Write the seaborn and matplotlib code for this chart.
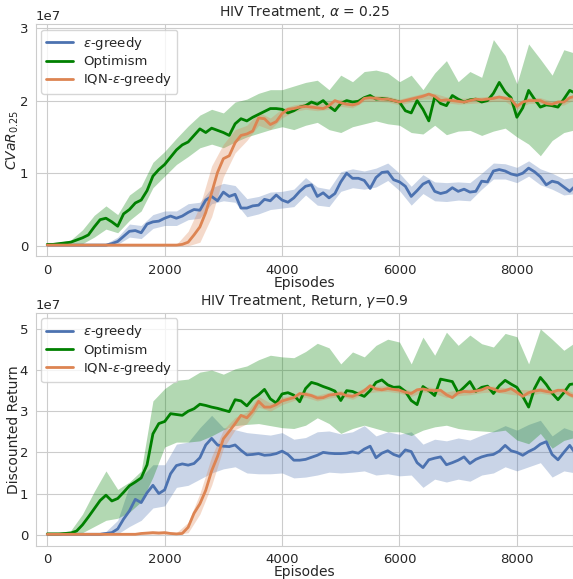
import numpy as np
import matplotlib
matplotlib.use("Agg")
import matplotlib.pyplot as plt
import seaborn as sns

# episodes for the mean curves (every 100) and for the shaded bands (every 200)
episodes = np.arange(0, 9001, 100)
band_episodes = np.arange(0, 9001, 200)

# ---- top panel: CVaR_0.25 (values in 1e6) ----
cvar_greedy = [
    0.1, 0.1, 0.1, 0.1, 0.1, 0.1, 0.1, 0.1, 0.1, 0.1,
    0.1, 0.3, 0.6, 1.3, 2.0, 2.1, 1.8, 3.0, 3.3, 3.4,
    3.8, 4.1, 3.8, 4.1, 4.6, 5.0, 4.9, 6.3, 6.8, 6.2,
    7.4, 6.8, 7.1, 5.2, 5.2, 5.5, 5.6, 6.4, 6.2, 7.0,
    6.3, 6.0, 6.6, 7.5, 8.2, 8.4, 6.8, 7.3, 6.6, 7.2,
    8.8, 10.0, 9.3, 9.3, 9.0, 7.9, 9.4, 10.1, 10.2, 9.1,
    8.8, 8.2, 6.8, 7.6, 8.5, 8.9, 7.5, 7.2, 7.4, 8.0,
    7.5, 7.8, 7.4, 7.5, 8.9, 8.8, 10.3, 10.5, 10.3, 9.9,
    9.7, 10.0, 10.7, 10.2, 9.5, 8.4, 8.9, 8.7, 8.1, 7.5,
    8.3]
cvar_greedy_lo = [
    0.0, 0.0, 0.0, 0.0, 0.0, 0.0, 0.2, 1.2, 1.0, 2.4,
    2.8, 2.8, 3.6, 3.8, 5.8, 6.2, 6.0, 4.0, 4.4, 5.0,
    5.2, 5.4, 7.0, 5.6, 5.4, 7.5, 8.0, 7.8, 8.1, 9.0,
    7.6, 5.6, 7.2, 6.2, 6.1, 6.3, 6.2, 7.8, 9.2, 9.2,
    8.7, 9.6, 8.4, 7.8, 7.0, 7.2]
cvar_greedy_hi = [
    0.2, 0.2, 0.2, 0.2, 0.2, 0.3, 1.2, 3.0, 2.8, 4.3,
    4.8, 4.8, 5.8, 6.0, 8.0, 8.6, 8.3, 6.5, 6.8, 7.4,
    7.5, 7.8, 9.4, 8.1, 7.8, 10.2, 10.6, 10.3, 10.7, 11.4,
    10.0, 8.2, 9.8, 8.8, 8.7, 8.8, 8.7, 10.0, 11.4, 11.3,
    10.8, 11.7, 10.6, 10.0, 9.2, 9.5]

cvar_optimism = [
    0.2, 0.2, 0.3, 0.4, 0.5, 0.8, 1.1, 1.5, 2.6, 3.6,
    3.8, 3.3, 2.7, 4.4, 5.0, 5.9, 6.3, 7.6, 9.6, 10.5,
    11.2, 12.2, 13.2, 13.9, 14.3, 15.2, 16.1, 15.6, 16.2, 15.9,
    15.6, 15.2, 16.8, 17.5, 17.2, 17.7, 18.1, 18.5, 18.9, 18.9,
    18.8, 18.3, 18.6, 19.1, 19.3, 19.8, 19.5, 20.0, 19.2, 18.6,
    19.6, 20.0, 19.8, 19.9, 20.4, 20.7, 20.2, 20.3, 20.2, 20.0,
    19.8, 18.6, 18.3, 20.0, 18.8, 17.2, 20.5, 19.6, 19.3, 20.7,
    20.2, 19.8, 20.1, 20.2, 19.8, 20.0, 21.0, 22.5, 21.2, 20.4,
    17.7, 19.0, 21.4, 20.2, 19.1, 19.4, 19.3, 19.1, 20.2, 21.4,
    21.0]
cvar_optimism_lo = [
    0.1, 0.1, 0.2, 0.3, 1.2, 2.3, 1.8, 3.5, 4.8, 8.0,
    9.6, 11.2, 12.3, 13.5, 14.0, 13.5, 14.3, 15.0, 15.5, 16.0,
    16.4, 16.0, 16.6, 17.0, 16.0, 15.6, 16.4, 16.8, 17.2, 16.8,
    16.6, 15.6, 15.4, 16.6, 15.3, 15.8, 15.9, 15.2, 15.8, 16.2,
    15.0, 14.0, 12.4, 14.5, 15.6, 16.0]
cvar_optimism_hi = [
    0.4, 0.5, 0.8, 2.2, 4.2, 5.5, 4.3, 7.0, 8.2, 11.5,
    13.0, 14.8, 16.5, 18.0, 18.8, 18.3, 19.8, 20.2, 21.0, 21.5,
    21.5, 22.0, 22.5, 22.8, 21.5, 23.5, 22.6, 24.0, 24.2, 23.8,
    22.6, 23.5, 21.5, 23.8, 25.5, 22.6, 24.0, 23.2, 28.4, 26.2,
    22.3, 27.8, 25.7, 23.5, 27.0, 26.5]

cvar_iqn = [
    0.1, 0.1, 0.1, 0.1, 0.1, 0.1, 0.1, 0.1, 0.1, 0.1,
    0.1, 0.1, 0.1, 0.1, 0.1, 0.1, 0.1, 0.1, 0.1, 0.1,
    0.1, 0.1, 0.1, 0.2, 0.5, 1.5, 2.6, 4.6, 7.3, 10.1,
    12.0, 12.4, 14.2, 15.2, 15.4, 15.8, 17.6, 17.5, 16.7, 17.1,
    18.2, 18.8, 18.9, 19.1, 19.2, 19.1, 19.0, 18.9, 19.3, 20.0,
    19.7, 19.5, 19.4, 19.6, 20.3, 20.4, 20.3, 20.2, 20.2, 20.0,
    19.8, 20.0, 20.2, 20.4, 20.6, 20.9, 20.6, 20.0, 20.1, 20.0,
    19.9, 19.8, 20.0, 20.2, 20.1, 20.2, 20.3, 20.5, 20.3, 20.2,
    19.2, 19.8, 20.0, 20.0, 20.0, 19.6, 19.5, 19.8, 19.8, 20.4,
    20.6]
cvar_iqn_lo = [
    0.0, 0.0, 0.0, 0.0, 0.0, 0.0, 0.0, 0.0, 0.0, 0.0,
    0.0, 0.0, 0.0, 0.5, 4.0, 9.5, 12.8, 14.5, 16.6, 16.0,
    17.6, 18.5, 18.8, 18.6, 18.8, 19.2, 19.0, 19.9, 19.9, 19.8,
    19.4, 19.8, 20.2, 20.2, 19.7, 19.5, 19.6, 19.7, 19.9, 19.9,
    18.8, 19.6, 19.6, 19.1, 19.4, 20.2]
cvar_iqn_hi = [
    0.2, 0.2, 0.2, 0.2, 0.2, 0.2, 0.2, 0.2, 0.2, 0.2,
    0.2, 0.2, 2.0, 5.5, 11.0, 14.0, 16.0, 16.6, 18.4, 17.6,
    18.9, 19.4, 19.7, 19.5, 19.9, 20.2, 19.9, 20.7, 20.7, 20.6,
    20.2, 20.6, 21.0, 21.0, 20.5, 20.3, 20.4, 20.5, 20.7, 20.7,
    19.6, 20.4, 20.4, 19.9, 20.2, 21.0]

# ---- bottom panel: discounted return (values in 1e6) ----
ret_greedy = [
    0.1, 0.1, 0.1, 0.1, 0.1, 0.1, 0.1, 0.1, 0.1, 0.1,
    0.3, 0.5, 1.4, 3.8, 5.8, 8.6, 7.8, 10.2, 12.0, 10.0,
    10.9, 14.8, 16.8, 17.2, 16.9, 17.3, 18.7, 21.8, 23.4, 21.8,
    21.5, 21.4, 21.8, 20.5, 19.4, 19.5, 19.7, 19.3, 19.4, 19.7,
    20.3, 19.5, 18.1, 18.1, 18.3, 18.8, 19.3, 20.0, 19.8, 19.7,
    19.7, 19.8, 20.1, 19.8, 20.8, 21.5, 18.7, 19.8, 20.4, 19.5,
    19.0, 20.6, 20.2, 17.5, 16.3, 18.2, 18.6, 18.9, 17.0, 17.5,
    18.1, 18.9, 17.3, 18.3, 18.9, 19.3, 19.5, 20.3, 21.7, 20.4,
    20.0, 19.3, 20.2, 20.9, 22.0, 22.6, 19.5, 18.2, 20.0, 21.7,
    19.7]
ret_greedy_lo = [
    0.0, 0.0, 0.0, 0.0, 0.0, 0.0, 0.2, 2.0, 3.5, 6.5,
    7.0, 11.5, 12.0, 13.5, 15.0, 16.0, 16.5, 15.0, 14.8, 14.8,
    15.0, 13.8, 14.0, 14.5, 15.2, 15.0, 15.2, 15.5, 14.5, 14.8,
    14.3, 14.5, 11.5, 13.5, 12.8, 13.5, 13.0, 14.5, 15.0, 16.5,
    15.5, 16.5, 17.5, 14.0, 15.5, 15.0]
ret_greedy_hi = [
    0.3, 0.3, 0.3, 0.3, 0.3, 0.8, 3.5, 12.0, 14.0, 17.0,
    17.0, 22.0, 22.5, 26.0, 29.0, 26.0, 25.5, 24.8, 24.5, 24.2,
    24.8, 23.2, 23.6, 25.0, 25.2, 24.5, 25.0, 26.5, 24.0, 25.0,
    24.4, 25.0, 22.0, 23.2, 22.8, 23.5, 23.0, 24.2, 25.2, 26.5,
    25.4, 26.8, 27.8, 24.0, 26.0, 25.0]

ret_optimism = [
    0.2, 0.2, 0.2, 0.3, 0.4, 0.9, 2.4, 4.3, 6.3, 8.3,
    9.6, 8.2, 8.8, 10.3, 11.9, 12.8, 13.8, 17.0, 24.5, 27.0,
    27.5, 29.4, 29.2, 29.0, 30.0, 30.6, 31.7, 31.4, 31.0, 30.7,
    30.3, 29.9, 32.8, 32.5, 31.3, 33.0, 34.0, 35.3, 33.0, 32.0,
    34.2, 34.5, 33.9, 32.3, 35.5, 37.0, 36.6, 36.0, 35.5, 34.9,
    32.6, 35.0, 34.8, 34.2, 33.6, 35.0, 37.0, 37.6, 36.4, 35.8,
    35.9, 34.8, 32.6, 31.6, 36.0, 35.0, 33.8, 37.8, 37.5, 37.2,
    34.5, 35.8, 37.2, 34.8, 35.8, 36.1, 34.3, 36.2, 37.5, 36.6,
    35.8, 33.6, 31.0, 35.5, 38.2, 36.5, 34.4, 32.8, 34.5, 36.5,
    36.7]
ret_optimism_lo = [
    0.0, 0.0, 0.1, 0.5, 2.0, 3.5, 4.0, 5.5, 8.0, 14.0,
    21.3, 22.5, 22.5, 22.8, 24.0, 25.5, 26.5, 26.8, 27.0, 26.5,
    26.0, 25.8, 26.6, 28.4, 27.0, 24.6, 25.8, 26.6, 25.8, 25.0,
    25.0, 24.1, 25.4, 26.2, 26.6, 25.8, 25.4, 25.2, 25.0, 25.4,
    23.0, 22.1, 24.6, 21.0, 22.9, 23.7]
ret_optimism_hi = [
    0.4, 0.5, 1.0, 5.0, 10.5, 15.5, 11.0, 12.8, 15.5, 32.5,
    35.5, 37.5, 37.8, 39.5, 40.0, 39.0, 40.3, 41.0, 42.5, 43.6,
    43.2, 43.0, 44.5, 46.5, 45.4, 41.5, 44.4, 43.2, 46.0, 47.5,
    46.8, 41.5, 48.0, 43.6, 49.2, 46.0, 48.5, 46.4, 45.6, 48.9,
    48.1, 41.5, 50.0, 47.5, 44.8, 46.8]

ret_iqn = [
    0.1, 0.1, 0.1, 0.1, 0.1, 0.1, 0.1, 0.1, 0.1, 0.1,
    0.1, 0.1, 0.1, 0.1, 0.1, 0.1, 0.3, 0.4, 0.5, 0.4,
    0.5, 0.3, 0.2, 0.3, 1.8, 5.2, 7.5, 10.8, 15.5, 19.0,
    23.3, 25.1, 27.0, 29.0, 28.4, 30.0, 32.4, 31.0, 31.0, 31.6,
    32.5, 32.9, 33.3, 34.3, 34.1, 33.8, 33.2, 33.3, 33.9, 34.1,
    34.3, 33.8, 33.6, 34.2, 35.0, 36.2, 35.4, 35.2, 35.5, 35.3,
    35.1, 34.6, 34.3, 35.2, 35.4, 35.1, 35.0, 35.1, 34.0, 33.3,
    34.5, 34.8, 34.7, 34.9, 35.2, 35.8, 35.4, 34.8, 35.0, 35.5,
    34.6, 33.6, 34.5, 34.9, 35.1, 34.8, 34.6, 35.1, 35.0, 34.0,
    33.5]
ret_iqn_lo = [
    0.0, 0.0, 0.0, 0.0, 0.0, 0.0, 0.0, 0.0, 0.0, 0.1,
    0.1, 0.0, 0.5, 5.0, 12.0, 21.0, 25.5, 27.0, 31.0, 30.0,
    31.6, 32.6, 33.4, 32.5, 33.2, 33.6, 32.9, 34.3, 34.7, 34.8,
    34.4, 33.6, 34.7, 34.3, 33.3, 33.8, 34.0, 34.5, 34.7, 34.3,
    33.9, 33.8, 34.4, 33.9, 34.3, 32.8]
ret_iqn_hi = [
    0.3, 0.3, 0.3, 0.3, 0.3, 0.3, 0.3, 0.3, 0.6, 0.9,
    0.9, 0.5, 3.0, 10.0, 19.0, 25.5, 28.5, 29.8, 33.6, 32.0,
    33.4, 34.0, 34.8, 33.9, 34.6, 35.0, 34.3, 35.7, 36.1, 36.2,
    35.8, 35.0, 36.1, 35.7, 34.7, 35.2, 35.4, 35.9, 36.1, 35.7,
    35.3, 35.2, 35.8, 35.3, 35.7, 34.2]

labels = [r"$\epsilon$-greedy", "Optimism", r"IQN-$\epsilon$-greedy"]
colors = ["#4c72b0", "#008000", "#dd8452"]


def draw_panel(ax, series):
    for (mean, lo, hi), label, color in zip(series, labels, colors):
        sns.lineplot(x=episodes, y=np.array(mean) * 1e6, ax=ax, color=color,
                     linewidth=2.0, label=label)
        ax.fill_between(band_episodes, np.array(lo) * 1e6, np.array(hi) * 1e6,
                        color=color, alpha=0.3, linewidth=0)
    ax.set_xlim(-197, 8956)
    ax.set_xticks([0, 2000, 4000, 6000, 8000])
    ax.set_xlabel("Episodes", fontsize=10, labelpad=-1)
    ax.tick_params(labelsize=9.5, pad=2)
    ax.yaxis.get_offset_text().set_fontsize(9.5)
    ax.legend(loc="upper left", fontsize=9.5, frameon=True,
              labelspacing=0.25, borderaxespad=0.4)


sns.set_style("whitegrid")
fig = plt.figure(figsize=(5.73, 5.79), dpi=100)
ax1 = fig.add_axes([0.0623, 0.557, 0.9377, 0.401])
ax2 = fig.add_axes([0.0623, 0.0573, 0.9377, 0.4024])

draw_panel(ax1, [(cvar_greedy, cvar_greedy_lo, cvar_greedy_hi),
                 (cvar_optimism, cvar_optimism_lo, cvar_optimism_hi),
                 (cvar_iqn, cvar_iqn_lo, cvar_iqn_hi)])
ax1.set_ylim(-0.147e7, 3.05e7)
ax1.set_yticks([0, 1e7, 2e7, 3e7])
ax1.set_ylabel(r"$CVaR_{0.25}$", fontsize=10, labelpad=-1)
ax1.set_title(r"HIV Treatment, $\alpha$ = 0.25", fontsize=10, pad=6)

draw_panel(ax2, [(ret_greedy, ret_greedy_lo, ret_greedy_hi),
                 (ret_optimism, ret_optimism_lo, ret_optimism_hi),
                 (ret_iqn, ret_iqn_lo, ret_iqn_hi)])
ax2.set_ylim(-0.27e7, 5.39e7)
ax2.set_yticks([0, 1e7, 2e7, 3e7, 4e7, 5e7])
ax2.set_ylabel("Discounted Return", fontsize=10, labelpad=-1)
ax2.set_title(r"HIV Treatment, Return, $\gamma$=0.9", fontsize=10, pad=6)

fig.savefig("out.png", dpi=100)
